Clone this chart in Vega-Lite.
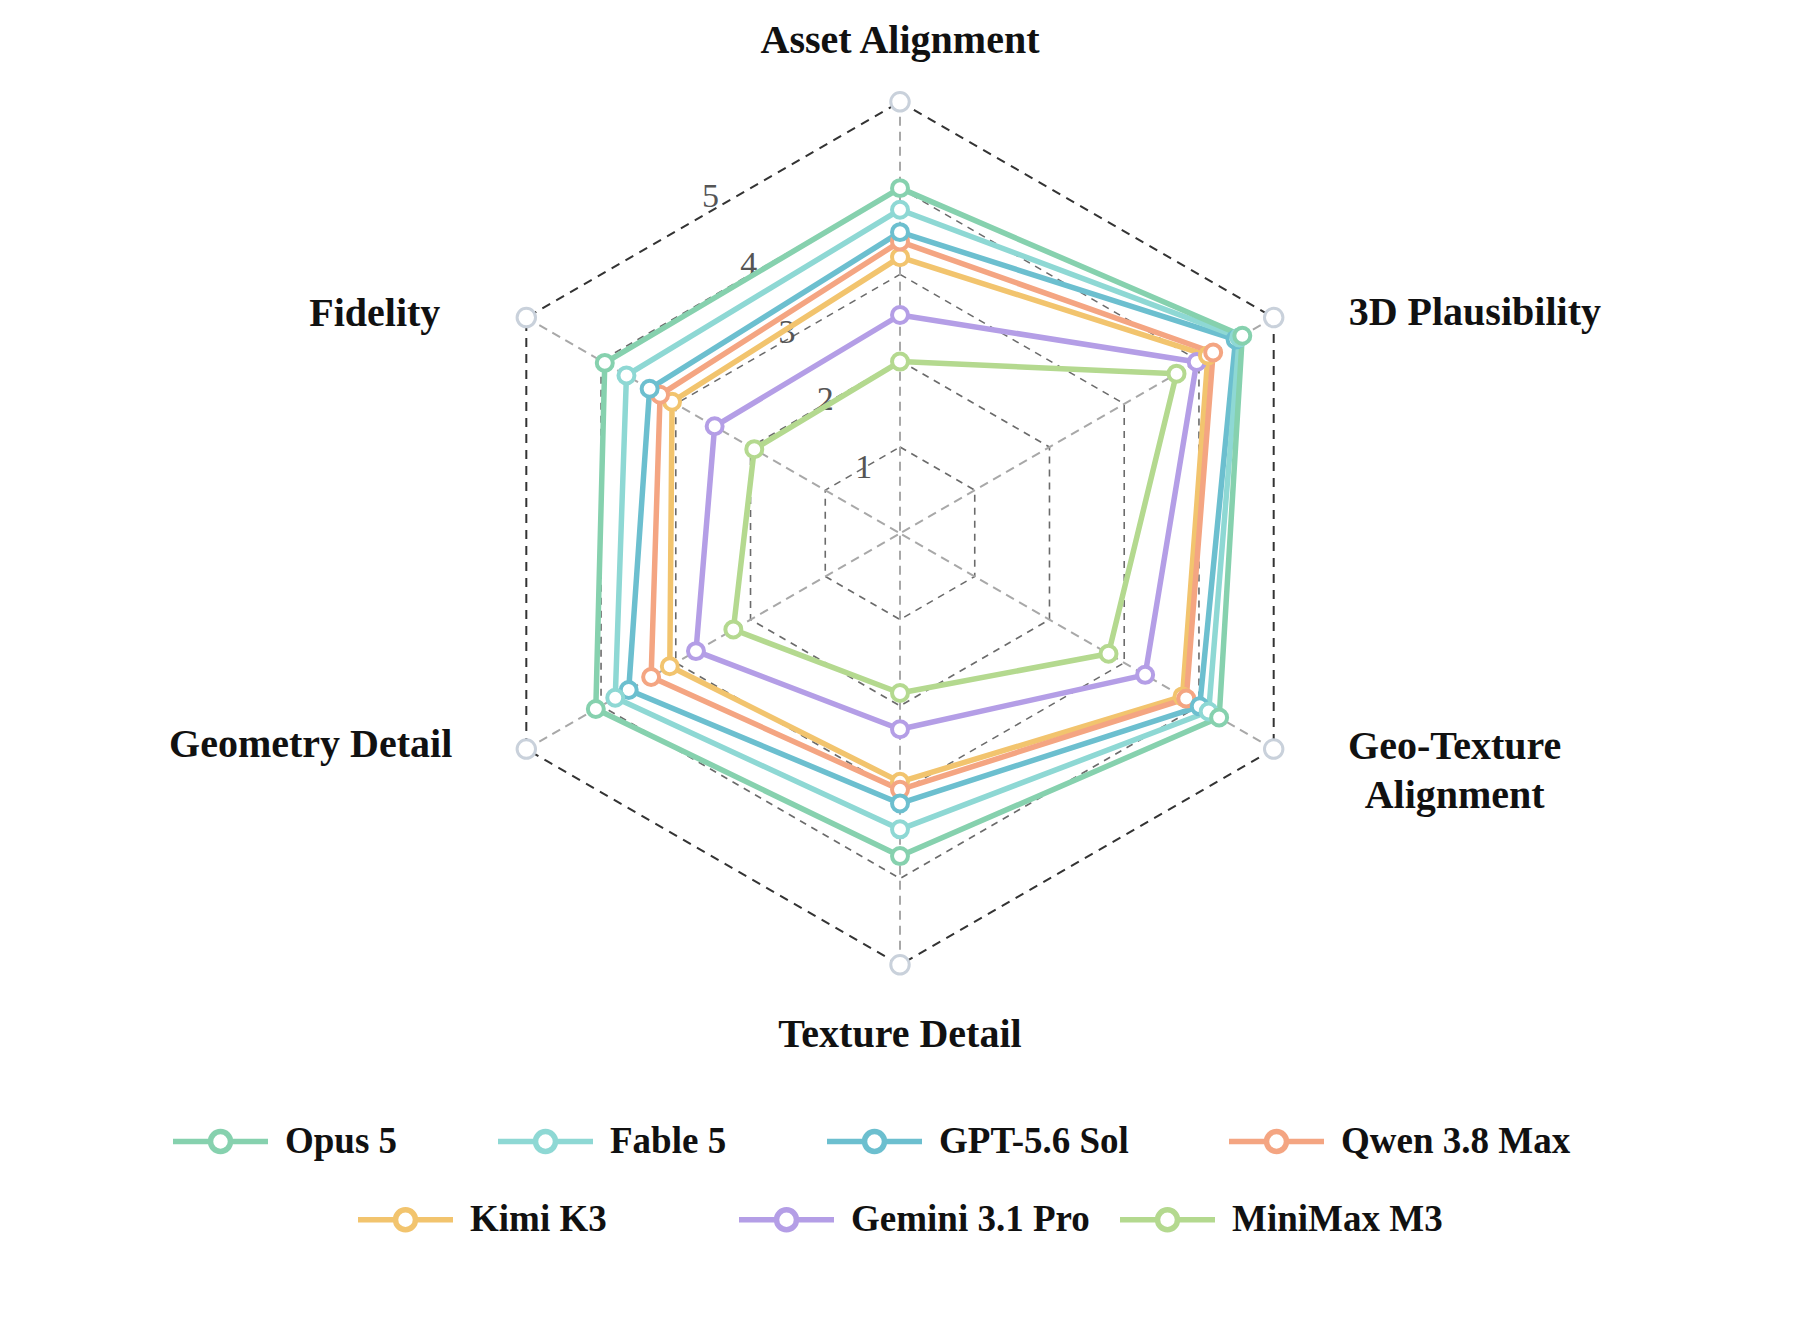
{
  "$schema": "https://vega.github.io/schema/vega-lite/v6.json",
  "width": 1800,
  "height": 1344,
  "autosize": {"type": "fit", "contains": "padding"},
  "padding": 0,
  "background": "white",
  "datasets": {
    "axes": [
      {"axis": "Asset Alignment", "label": "Asset Alignment"},
      {"axis": "3D Plausibility", "label": "3D Plausibility"},
      {"axis": "Geo-Texture Alignment", "label": "Geo-Texture\nAlignment"},
      {"axis": "Texture Detail", "label": "Texture Detail"},
      {"axis": "Geometry Detail", "label": "Geometry Detail"},
      {"axis": "Fidelity", "label": "Fidelity"}
    ],
    "grid": [
      {"ring": 1, "axis": "Asset Alignment"}, {"ring": 1, "axis": "3D Plausibility"}, {"ring": 1, "axis": "Geo-Texture Alignment"},
      {"ring": 1, "axis": "Texture Detail"}, {"ring": 1, "axis": "Geometry Detail"}, {"ring": 1, "axis": "Fidelity"},
      {"ring": 2, "axis": "Asset Alignment"}, {"ring": 2, "axis": "3D Plausibility"}, {"ring": 2, "axis": "Geo-Texture Alignment"},
      {"ring": 2, "axis": "Texture Detail"}, {"ring": 2, "axis": "Geometry Detail"}, {"ring": 2, "axis": "Fidelity"},
      {"ring": 3, "axis": "Asset Alignment"}, {"ring": 3, "axis": "3D Plausibility"}, {"ring": 3, "axis": "Geo-Texture Alignment"},
      {"ring": 3, "axis": "Texture Detail"}, {"ring": 3, "axis": "Geometry Detail"}, {"ring": 3, "axis": "Fidelity"},
      {"ring": 4, "axis": "Asset Alignment"}, {"ring": 4, "axis": "3D Plausibility"}, {"ring": 4, "axis": "Geo-Texture Alignment"},
      {"ring": 4, "axis": "Texture Detail"}, {"ring": 4, "axis": "Geometry Detail"}, {"ring": 4, "axis": "Fidelity"},
      {"ring": 5, "axis": "Asset Alignment"}, {"ring": 5, "axis": "3D Plausibility"}, {"ring": 5, "axis": "Geo-Texture Alignment"},
      {"ring": 5, "axis": "Texture Detail"}, {"ring": 5, "axis": "Geometry Detail"}, {"ring": 5, "axis": "Fidelity"}
    ],
    "scores": [
      {"model": "MiniMax M3", "axis": "Asset Alignment", "score": 1.99},
      {"model": "MiniMax M3", "axis": "3D Plausibility", "score": 3.70},
      {"model": "MiniMax M3", "axis": "Geo-Texture Alignment", "score": 2.79},
      {"model": "MiniMax M3", "axis": "Texture Detail", "score": 1.85},
      {"model": "MiniMax M3", "axis": "Geometry Detail", "score": 2.23},
      {"model": "MiniMax M3", "axis": "Fidelity", "score": 1.95},
      {"model": "Gemini 3.1 Pro", "axis": "Asset Alignment", "score": 2.53},
      {"model": "Gemini 3.1 Pro", "axis": "3D Plausibility", "score": 3.97},
      {"model": "Gemini 3.1 Pro", "axis": "Geo-Texture Alignment", "score": 3.28},
      {"model": "Gemini 3.1 Pro", "axis": "Texture Detail", "score": 2.27},
      {"model": "Gemini 3.1 Pro", "axis": "Geometry Detail", "score": 2.73},
      {"model": "Gemini 3.1 Pro", "axis": "Fidelity", "score": 2.48},
      {"model": "Kimi K3", "axis": "Asset Alignment", "score": 3.20},
      {"model": "Kimi K3", "axis": "3D Plausibility", "score": 4.12},
      {"model": "Kimi K3", "axis": "Geo-Texture Alignment", "score": 3.78},
      {"model": "Kimi K3", "axis": "Texture Detail", "score": 2.88},
      {"model": "Kimi K3", "axis": "Geometry Detail", "score": 3.08},
      {"model": "Kimi K3", "axis": "Fidelity", "score": 3.05},
      {"model": "Qwen 3.8 Max", "axis": "Asset Alignment", "score": 3.38},
      {"model": "Qwen 3.8 Max", "axis": "3D Plausibility", "score": 4.19},
      {"model": "Qwen 3.8 Max", "axis": "Geo-Texture Alignment", "score": 3.83},
      {"model": "Qwen 3.8 Max", "axis": "Texture Detail", "score": 2.97},
      {"model": "Qwen 3.8 Max", "axis": "Geometry Detail", "score": 3.33},
      {"model": "Qwen 3.8 Max", "axis": "Fidelity", "score": 3.21},
      {"model": "GPT-5.6 Sol", "axis": "Asset Alignment", "score": 3.49},
      {"model": "GPT-5.6 Sol", "axis": "3D Plausibility", "score": 4.49},
      {"model": "GPT-5.6 Sol", "axis": "Geo-Texture Alignment", "score": 4.01},
      {"model": "GPT-5.6 Sol", "axis": "Texture Detail", "score": 3.13},
      {"model": "GPT-5.6 Sol", "axis": "Geometry Detail", "score": 3.63},
      {"model": "GPT-5.6 Sol", "axis": "Fidelity", "score": 3.35},
      {"model": "Fable 5", "axis": "Asset Alignment", "score": 3.75},
      {"model": "Fable 5", "axis": "3D Plausibility", "score": 4.54},
      {"model": "Fable 5", "axis": "Geo-Texture Alignment", "score": 4.13},
      {"model": "Fable 5", "axis": "Texture Detail", "score": 3.43},
      {"model": "Fable 5", "axis": "Geometry Detail", "score": 3.81},
      {"model": "Fable 5", "axis": "Fidelity", "score": 3.66},
      {"model": "Opus 5", "axis": "Asset Alignment", "score": 4.00},
      {"model": "Opus 5", "axis": "3D Plausibility", "score": 4.58},
      {"model": "Opus 5", "axis": "Geo-Texture Alignment", "score": 4.27},
      {"model": "Opus 5", "axis": "Texture Detail", "score": 3.74},
      {"model": "Opus 5", "axis": "Geometry Detail", "score": 4.07},
      {"model": "Opus 5", "axis": "Fidelity", "score": 3.95}
    ]
  },
  "encoding": {
    "x": {"field": "x", "type": "quantitative", "scale": {"domain": [-10.4287, 10.4287], "nice": false, "zero": false}, "axis": null},
    "y": {"field": "y", "type": "quantitative", "scale": {"domain": [-9.394, 6.18], "nice": false, "zero": false}, "axis": null}
  },
  "layer": [
    {
      "data": {"name": "grid"},
      "transform": [
        {"filter": "datum.ring < 5"},
        {"calculate": "indexof(['Asset Alignment','3D Plausibility','Geo-Texture Alignment','Texture Detail','Geometry Detail','Fidelity'], datum.axis)", "as": "i"},
        {"calculate": "PI / 2 - datum.i * PI / 3", "as": "a"},
        {"calculate": "datum.ring * cos(datum.a)", "as": "x"},
        {"calculate": "datum.ring * sin(datum.a)", "as": "y"}
      ],
      "mark": {"type": "line", "interpolate": "linear-closed", "stroke": "#6b6b6b", "strokeWidth": 1.6, "strokeDash": [7, 6]},
      "encoding": {"detail": {"field": "ring"}, "order": {"field": "i"}}
    },
    {
      "data": {"name": "grid"},
      "transform": [
        {"filter": "datum.ring == 5"},
        {"calculate": "indexof(['Asset Alignment','3D Plausibility','Geo-Texture Alignment','Texture Detail','Geometry Detail','Fidelity'], datum.axis)", "as": "i"},
        {"calculate": "PI / 2 - datum.i * PI / 3", "as": "a"},
        {"calculate": "datum.ring * cos(datum.a)", "as": "x"},
        {"calculate": "datum.ring * sin(datum.a)", "as": "y"}
      ],
      "mark": {"type": "line", "interpolate": "linear-closed", "stroke": "#333333", "strokeWidth": 2, "strokeDash": [9, 7]},
      "encoding": {"order": {"field": "i"}}
    },
    {
      "data": {"name": "axes"},
      "transform": [
        {"calculate": "indexof(['Asset Alignment','3D Plausibility','Geo-Texture Alignment','Texture Detail','Geometry Detail','Fidelity'], datum.axis)", "as": "i"},
        {"calculate": "PI / 2 - datum.i * PI / 3", "as": "a"},
        {"calculate": "5 * cos(datum.a)", "as": "x"},
        {"calculate": "5 * sin(datum.a)", "as": "y"}
      ],
      "mark": {"type": "rule", "stroke": "#a8a8a8", "strokeWidth": 2, "strokeDash": [9, 6]},
      "encoding": {"x2": {"datum": 0}, "y2": {"datum": 0}}
    },
    {
      "data": {"name": "grid"},
      "transform": [
        {"filter": "datum.axis == 'Asset Alignment'"},
        {"calculate": "-0.444 * datum.ring", "as": "x"},
        {"calculate": "0.783 * datum.ring", "as": "y"}
      ],
      "mark": {"type": "text", "font": "Liberation Serif", "fontSize": 34, "color": "#555555", "align": "center", "baseline": "middle", "dx": 2, "dy": 2},
      "encoding": {"text": {"field": "ring", "type": "nominal"}}
    },
    {
      "data": {"name": "scores"},
      "transform": [
        {"filter": "indexof(['Kimi K3','Gemini 3.1 Pro','MiniMax M3'], datum.model) >= 0"},
        {"calculate": "indexof(['Asset Alignment','3D Plausibility','Geo-Texture Alignment','Texture Detail','Geometry Detail','Fidelity'], datum.axis)", "as": "i"},
        {"calculate": "PI / 2 - datum.i * PI / 3", "as": "a"},
        {"calculate": "datum.score * cos(datum.a)", "as": "x"},
        {"calculate": "datum.score * sin(datum.a)", "as": "y"}
      ],
      "mark": {"type": "line", "interpolate": "linear-closed", "strokeWidth": 5.5, "strokeJoin": "round"},
      "encoding": {
        "order": {"field": "i"},
        "color": {
          "field": "model",
          "type": "nominal",
          "scale": {"domain": ["Kimi K3", "Gemini 3.1 Pro", "MiniMax M3"], "range": ["#f2c46e", "#b49ee6", "#b4d98f"]},
          "legend": {"legendX": 355, "legendY": 1169, "columns": 3, "gridAlign": "all", "columnPadding": 19}
        }
      }
    },
    {
      "data": {"name": "scores"},
      "transform": [
        {"filter": "indexof(['Opus 5','Fable 5','GPT-5.6 Sol','Qwen 3.8 Max'], datum.model) >= 0"},
        {"calculate": "indexof(['Asset Alignment','3D Plausibility','Geo-Texture Alignment','Texture Detail','Geometry Detail','Fidelity'], datum.axis)", "as": "i"},
        {"calculate": "PI / 2 - datum.i * PI / 3", "as": "a"},
        {"calculate": "datum.score * cos(datum.a)", "as": "x"},
        {"calculate": "datum.score * sin(datum.a)", "as": "y"}
      ],
      "mark": {"type": "line", "interpolate": "linear-closed", "strokeWidth": 5.5, "strokeJoin": "round"},
      "encoding": {
        "order": {"field": "i"},
        "color": {
          "field": "model",
          "type": "nominal",
          "scale": {"domain": ["Opus 5", "Fable 5", "GPT-5.6 Sol", "Qwen 3.8 Max"], "range": ["#86d1ae", "#8ed8d4", "#6cbfcf", "#f4a582"]},
          "legend": {"legendX": 170, "legendY": 1091, "columns": 4, "gridAlign": "none", "columnPadding": 89}
        }
      }
    },
    {
      "data": {"name": "scores"},
      "transform": [
        {"calculate": "indexof(['Asset Alignment','3D Plausibility','Geo-Texture Alignment','Texture Detail','Geometry Detail','Fidelity'], datum.axis)", "as": "i"},
        {"calculate": "PI / 2 - datum.i * PI / 3", "as": "a"},
        {"calculate": "datum.score * cos(datum.a)", "as": "x"},
        {"calculate": "datum.score * sin(datum.a)", "as": "y"}
      ],
      "mark": {"type": "circle", "fill": "white", "opacity": 1, "size": 255, "strokeWidth": 4},
      "encoding": {
        "stroke": {
          "field": "model",
          "type": "nominal",
          "scale": {
            "domain": ["Opus 5", "Fable 5", "GPT-5.6 Sol", "Qwen 3.8 Max", "Kimi K3", "Gemini 3.1 Pro", "MiniMax M3"],
            "range": ["#86d1ae", "#8ed8d4", "#6cbfcf", "#f4a582", "#f2c46e", "#b49ee6", "#b4d98f"]
          },
          "legend": null
        }
      }
    },
    {
      "data": {"name": "axes"},
      "transform": [
        {"calculate": "indexof(['Asset Alignment','3D Plausibility','Geo-Texture Alignment','Texture Detail','Geometry Detail','Fidelity'], datum.axis)", "as": "i"},
        {"calculate": "PI / 2 - datum.i * PI / 3", "as": "a"},
        {"calculate": "5 * cos(datum.a)", "as": "x"},
        {"calculate": "5 * sin(datum.a)", "as": "y"}
      ],
      "layer": [
        {
          "mark": {"type": "circle", "fill": "white", "stroke": "#c9d1db", "strokeWidth": 3, "size": 340, "opacity": 1}
        },
        {
          "transform": [{"filter": "datum.axis == 'Asset Alignment'"}],
          "mark": {"type": "text", "font": "Liberation Serif", "fontSize": 40, "fontWeight": "bold", "color": "#111111", "align": "center", "baseline": "alphabetic", "dy": -49},
          "encoding": {"text": {"field": "label"}}
        },
        {
          "transform": [{"filter": "datum.axis == 'Texture Detail'"}],
          "mark": {"type": "text", "font": "Liberation Serif", "fontSize": 40, "fontWeight": "bold", "color": "#111111", "align": "center", "baseline": "alphabetic", "dy": 82},
          "encoding": {"text": {"field": "label"}}
        },
        {
          "transform": [{"filter": "datum.axis == 'Fidelity'"}],
          "mark": {"type": "text", "font": "Liberation Serif", "fontSize": 40, "fontWeight": "bold", "color": "#111111", "align": "right", "baseline": "alphabetic", "dx": -86, "dy": 8},
          "encoding": {"text": {"field": "label"}}
        },
        {
          "transform": [{"filter": "datum.axis == 'Geometry Detail'"}],
          "mark": {"type": "text", "font": "Liberation Serif", "fontSize": 40, "fontWeight": "bold", "color": "#111111", "align": "right", "baseline": "alphabetic", "dx": -74, "dy": 8},
          "encoding": {"text": {"field": "label"}}
        },
        {
          "transform": [{"filter": "datum.axis == '3D Plausibility'"}],
          "mark": {"type": "text", "font": "Liberation Serif", "fontSize": 40, "fontWeight": "bold", "color": "#111111", "align": "left", "baseline": "alphabetic", "dx": 75, "dy": 7.5},
          "encoding": {"text": {"field": "label"}}
        },
        {
          "transform": [{"filter": "datum.axis == 'Geo-Texture Alignment'"}],
          "mark": {"type": "text", "font": "Liberation Serif", "fontSize": 40, "fontWeight": "bold", "color": "#111111", "align": "center", "baseline": "alphabetic", "lineBreak": "\n", "lineHeight": 49, "dx": 181, "dy": 10},
          "encoding": {"text": {"field": "label"}}
        }
      ]
    }
  ],
  "resolve": {"scale": {"color": "independent"}},
  "config": {
    "view": {"stroke": null},
    "font": "Liberation Serif",
    "legend": {
      "orient": "none",
      "direction": "horizontal",
      "title": null,
      "padding": 0,
      "symbolType": "M-1,0L-0.21,0M0.21,0L1,0M-0.21,0A0.21,0.21,0,1,1,0.21,0A0.21,0.21,0,1,1,-0.21,0",
      "symbolSize": 9025,
      "symbolStrokeWidth": 5.5,
      "symbolFillColor": "white",
      "labelFont": "Liberation Serif",
      "labelFontSize": 37,
      "labelFontWeight": "bold",
      "labelColor": "#111111",
      "labelOffset": 14,
      "labelLimit": 600
    }
  }
}
